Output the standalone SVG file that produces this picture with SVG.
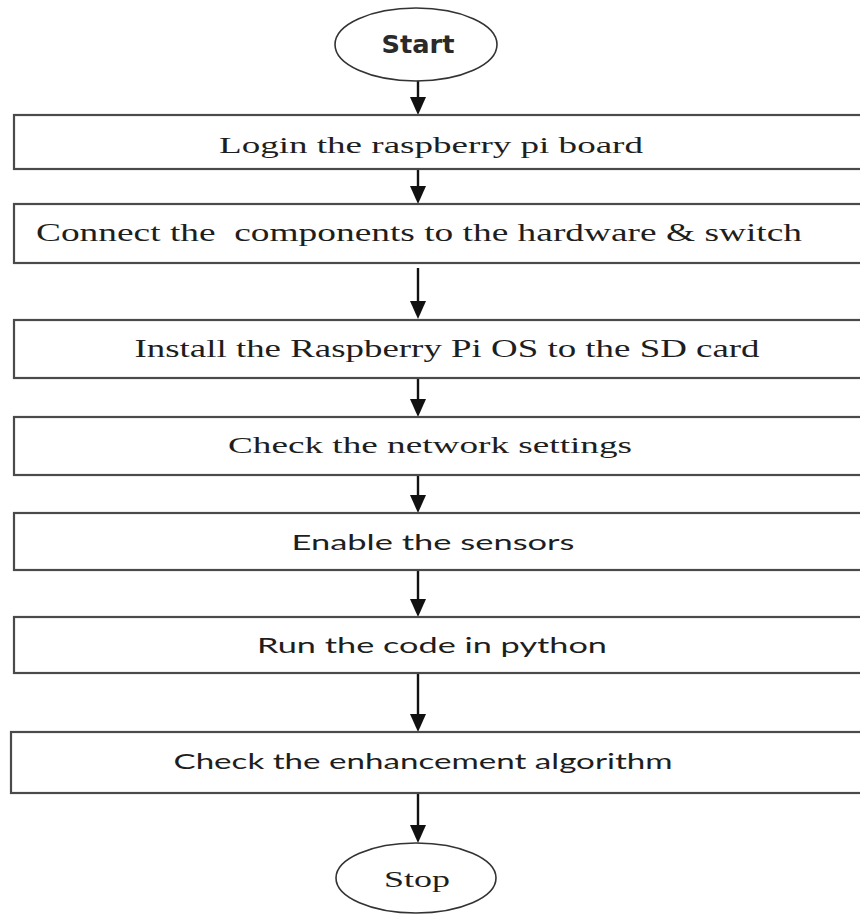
<svg xmlns="http://www.w3.org/2000/svg" width="860" height="916" viewBox="0 0 860 916">
  <style>
    .box { fill: #ffffff; stroke: #4a4a4a; stroke-width: 2.2; }
    .term { fill: #ffffff; stroke: #333333; stroke-width: 1.6; }
    .conn { stroke: #111111; stroke-width: 2.4; fill: none; }
    .serif { font-family: "Liberation Serif", "Times New Roman", serif; fill: #1e1e1e; text-anchor: middle; }
    .sans { font-family: Lato, "Open Sans", "Liberation Sans", sans-serif; fill: #1e1e1e; text-anchor: middle; }
    .verd { font-family: "DejaVu Sans", Verdana, sans-serif; font-weight: bold; fill: #2a2a2a; text-anchor: middle; }
  </style>
  <defs>
    <marker id="arrow" markerUnits="userSpaceOnUse" viewBox="0 0 18 16" markerWidth="18" markerHeight="16" refX="8" refY="8" orient="auto">
      <path d="M0,0 L18,8 L0,16 z" fill="#111111"/>
    </marker>
  </defs>
  <rect x="0" y="0" width="860" height="916" fill="#ffffff"/>

  <g id="connectors">
    <line class="conn" x1="418" y1="81" x2="418" y2="105" marker-end="url(#arrow)"/>
    <line class="conn" x1="418" y1="169" x2="418" y2="194" marker-end="url(#arrow)"/>
    <line class="conn" x1="418" y1="268" x2="418" y2="309" marker-end="url(#arrow)"/>
    <line class="conn" x1="418" y1="378" x2="418" y2="407" marker-end="url(#arrow)"/>
    <line class="conn" x1="418" y1="475" x2="418" y2="503" marker-end="url(#arrow)"/>
    <line class="conn" x1="418" y1="570" x2="418" y2="607" marker-end="url(#arrow)"/>
    <line class="conn" x1="418" y1="673" x2="418" y2="722" marker-end="url(#arrow)"/>
    <line class="conn" x1="418" y1="793" x2="418" y2="833" marker-end="url(#arrow)"/>
  </g>

  <g id="start">
    <ellipse class="term" cx="416" cy="44.5" rx="81" ry="36.5"/>
    <text class="verd" x="418" y="53" font-size="24" textLength="73" lengthAdjust="spacingAndGlyphs">Start</text>
  </g>

  <g id="login">
    <rect class="box" x="14" y="115" width="860" height="54"/>
    <text class="serif" x="431" y="153" font-size="24" textLength="424" lengthAdjust="spacingAndGlyphs">Login the raspberry pi board</text>
  </g>

  <g id="connect">
    <rect class="box" x="14" y="204" width="860" height="59"/>
    <text class="serif" x="419" y="241" font-size="25" xml:space="preserve" textLength="766" lengthAdjust="spacingAndGlyphs">Connect the  components to the hardware &amp; switch</text>
  </g>

  <g id="install">
    <rect class="box" x="14" y="320" width="860" height="58"/>
    <text class="serif" x="447" y="357" font-size="26" textLength="625" lengthAdjust="spacingAndGlyphs">Install the Raspberry Pi OS to the SD card</text>
  </g>

  <g id="network">
    <rect class="box" x="14" y="417" width="860" height="58"/>
    <text class="serif" x="430" y="453" font-size="24" textLength="404" lengthAdjust="spacingAndGlyphs">Check the network settings</text>
  </g>

  <g id="sensors">
    <rect class="box" x="14" y="513" width="860" height="57"/>
    <text class="sans" x="433" y="550" font-size="22" textLength="283" lengthAdjust="spacingAndGlyphs">Enable the sensors</text>
  </g>

  <g id="python">
    <rect class="box" x="14" y="617" width="860" height="56"/>
    <text class="sans" x="432" y="653" font-size="22" textLength="350" lengthAdjust="spacingAndGlyphs">Run the code in python</text>
  </g>

  <g id="algorithm">
    <rect class="box" x="11" y="732" width="860" height="61"/>
    <text class="sans" x="423" y="769" font-size="22" textLength="499" lengthAdjust="spacingAndGlyphs">Check the enhancement algorithm</text>
  </g>

  <g id="stop">
    <ellipse class="term" cx="416" cy="878" rx="80" ry="35"/>
    <text class="serif" x="417" y="887" font-size="24" textLength="66" lengthAdjust="spacingAndGlyphs">Stop</text>
  </g>
</svg>
